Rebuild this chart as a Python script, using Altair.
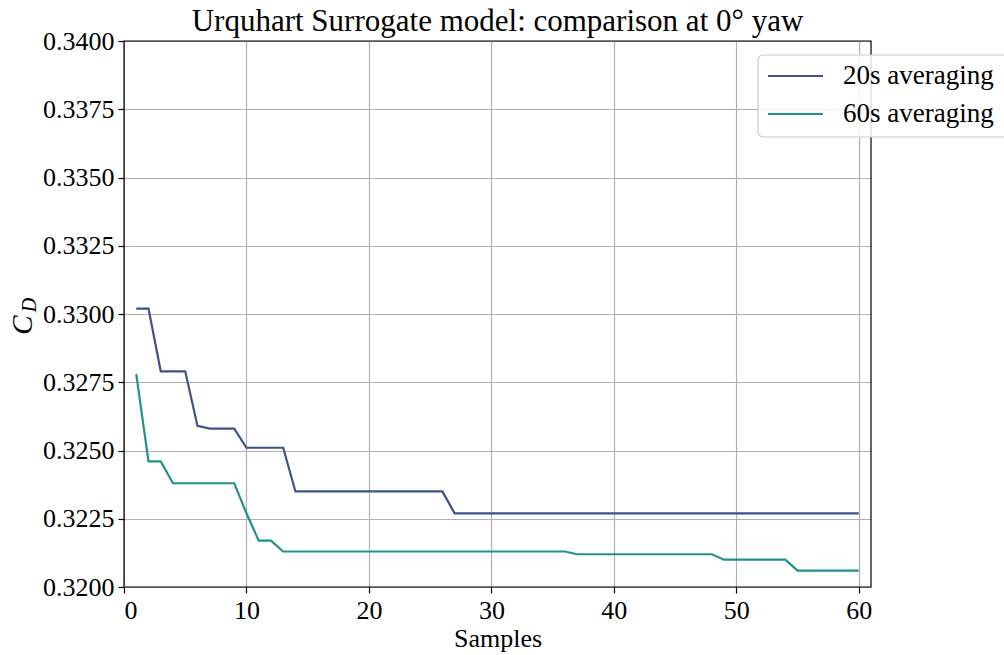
import altair as alt
import pandas as pd

# Running drag-coefficient estimate vs number of samples
samples = list(range(1, 61))

cd_20s = [
    0.3302, 0.3302, 0.3279, 0.3279, 0.3279, 0.3259, 0.3258, 0.3258, 0.3258, 0.3251,
    0.3251, 0.3251, 0.3251, 0.3235, 0.3235, 0.3235, 0.3235, 0.3235, 0.3235, 0.3235,
    0.3235, 0.3235, 0.3235, 0.3235, 0.3235, 0.3235, 0.3227, 0.3227, 0.3227, 0.3227,
    0.3227, 0.3227, 0.3227, 0.3227, 0.3227, 0.3227, 0.3227, 0.3227, 0.3227, 0.3227,
    0.3227, 0.3227, 0.3227, 0.3227, 0.3227, 0.3227, 0.3227, 0.3227, 0.3227, 0.3227,
    0.3227, 0.3227, 0.3227, 0.3227, 0.3227, 0.3227, 0.3227, 0.3227, 0.3227, 0.3227,
]

cd_60s = [
    0.3278, 0.3246, 0.3246, 0.3238, 0.3238, 0.3238, 0.3238, 0.3238, 0.3238, 0.3227,
    0.3217, 0.3217, 0.3213, 0.3213, 0.3213, 0.3213, 0.3213, 0.3213, 0.3213, 0.3213,
    0.3213, 0.3213, 0.3213, 0.3213, 0.3213, 0.3213, 0.3213, 0.3213, 0.3213, 0.3213,
    0.3213, 0.3213, 0.3213, 0.3213, 0.3213, 0.3213, 0.3212, 0.3212, 0.3212, 0.3212,
    0.3212, 0.3212, 0.3212, 0.3212, 0.3212, 0.3212, 0.3212, 0.3212, 0.3210, 0.3210,
    0.3210, 0.3210, 0.3210, 0.3210, 0.3206, 0.3206, 0.3206, 0.3206, 0.3206, 0.3206,
]

series_names = ["20s averaging", "60s averaging"]
series_colors = ["#3b528b", "#21918c"]

y_ticks = [0.32 + 0.0025 * i for i in range(9)]
x_ticks = [0, 10, 20, 30, 40, 50, 60]

title_text = "Urquhart Surrogate model: comparison at 0° yaw"

df = pd.concat([
    pd.DataFrame({"Samples": samples, "CD": cd_20s, "series": series_names[0]}),
    pd.DataFrame({"Samples": samples, "CD": cd_60s, "series": series_names[1]}),
])

FONT = "Liberation Serif"
W, H = 747, 546
LINE_W = 2.2

color_scale = alt.Scale(domain=series_names, range=series_colors)

lines = alt.Chart(df).mark_line(strokeWidth=LINE_W, clip=True).encode(
    x=alt.X("Samples:Q",
            scale=alt.Scale(domain=[0, 61], nice=False, zero=False),
            axis=alt.Axis(values=x_ticks, title="Samples", format="d")),
    y=alt.Y("CD:Q",
            scale=alt.Scale(domain=[0.32, 0.34], nice=False, zero=False),
            axis=alt.Axis(values=y_ticks, format=".4f", title=None)),
    color=alt.Color("series:N", scale=color_scale, legend=None),
)

# Black frame around the plot area, drawn above the grid
frame = alt.Chart(pd.DataFrame({"k": [0]})).mark_rect(
    fill=None, stroke="black", strokeWidth=1.2,
).encode(x=alt.value(0), x2=alt.value(W), y=alt.value(0), y2=alt.value(H))

# Chart title, centred above the plot area
title = alt.Chart(pd.DataFrame({"t": [title_text]})).mark_text(
    font=FONT, fontSize=31, color="black", align="center", baseline="middle",
).encode(text="t:N", x=alt.value(W / 2), y=alt.value(-19))

# Y-axis label: C with subscript D, rotated
c_label = alt.Chart(pd.DataFrame({"t": ["C"]})).mark_text(
    font=FONT, fontSize=29, fontStyle="italic", angle=270, color="black",
    align="center", baseline="middle",
).encode(text="t:N", x=alt.value(-101), y=alt.value(284))

d_label = alt.Chart(pd.DataFrame({"t": ["D"]})).mark_text(
    font=FONT, fontSize=20, fontStyle="italic", angle=270, color="black",
    align="center", baseline="middle",
).encode(text="t:N", x=alt.value(-94), y=alt.value(264))

# Legend box in the upper-right corner
LEG_X, LEG_Y = 634, 14
legend_box = alt.Chart(pd.DataFrame({"k": [0]})).mark_rect(
    fill="white", fillOpacity=0.85, stroke="#cccccc", strokeWidth=1.2,
    cornerRadius=5,
).encode(x=alt.value(LEG_X), x2=alt.value(LEG_X + 262),
         y=alt.value(LEG_Y), y2=alt.value(LEG_Y + 82))

legend_layers = []
for i, (name, col) in enumerate(zip(series_names, series_colors)):
    yy = LEG_Y + 21 + 38 * i
    legend_layers.append(
        alt.Chart(pd.DataFrame({"k": [0]})).mark_rule(
            color=col, strokeWidth=LINE_W,
        ).encode(x=alt.value(LEG_X + 10), x2=alt.value(LEG_X + 65), y=alt.value(yy))
    )
    legend_layers.append(
        alt.Chart(pd.DataFrame({"t": [name]})).mark_text(
            font=FONT, fontSize=27, color="black", align="left", baseline="middle",
        ).encode(text="t:N", x=alt.value(LEG_X + 85), y=alt.value(yy))
    )

chart = alt.layer(lines, frame, title, c_label, d_label, legend_box, *legend_layers).properties(
    width=W, height=H,
    background="white",
    autosize=alt.AutoSizeParams(type="none"),
    padding={"left": 124, "top": 41, "right": 133, "bottom": 68},
).configure_view(
    stroke=None,
).configure_axis(
    labelFont=FONT, labelFontSize=26, labelColor="black",
    titleFont=FONT, titleFontSize=26, titleColor="black", titleFontWeight="normal",
    tickColor="black", tickSize=6, tickWidth=1.2,
    domain=False,
    grid=True, gridColor="#b0b0b0", gridWidth=1.2,
    labelPadding=4,
).configure_axisX(
    titlePadding=2,
)

chart.save("out.html", embed_options={"renderer": "svg", "actions": False})
